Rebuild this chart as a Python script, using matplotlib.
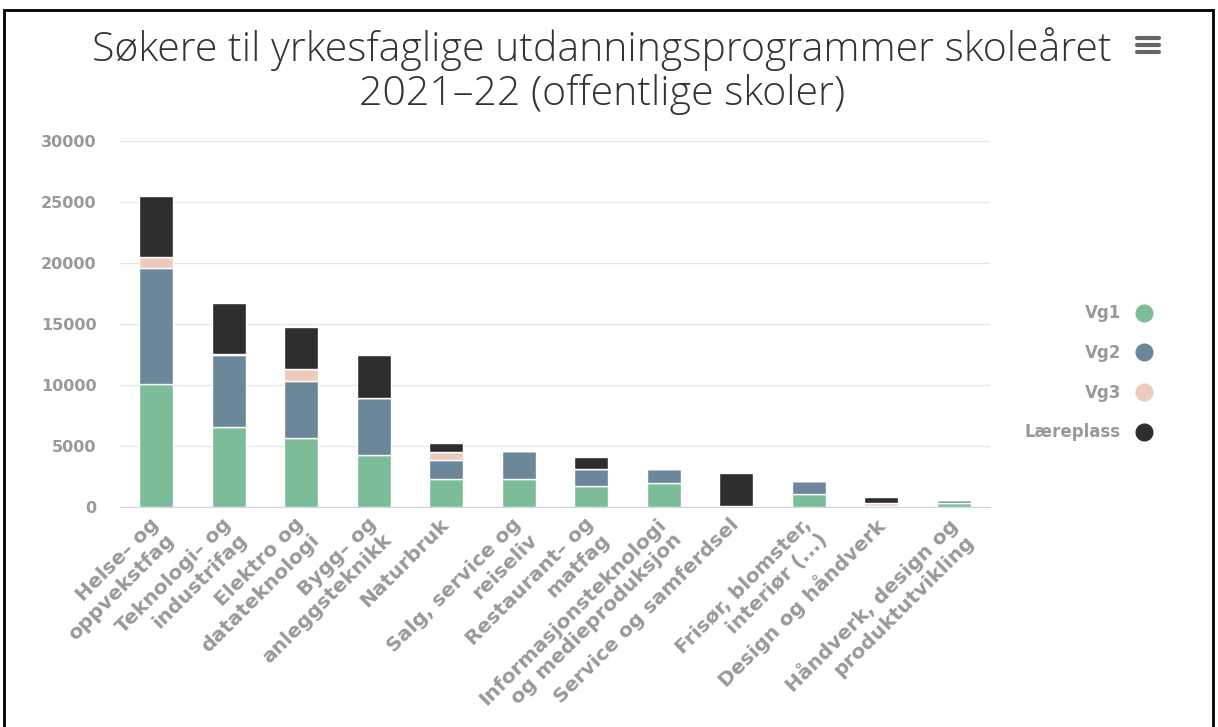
import numpy as np
import matplotlib
matplotlib.use("Agg")
import matplotlib.pyplot as plt
from matplotlib.lines import Line2D
from matplotlib.patches import Rectangle
from matplotlib.transforms import ScaledTranslation

# data
categories = [
    "Helse– og\noppvekstfag",
    "Teknologi– og\nindustrifag",
    "Elektro og\ndatateknologi",
    "Bygg– og\nanleggsteknikk",
    "Naturbruk",
    "Salg, service og\nreiseliv",
    "Restaurant– og\nmatfag",
    "Informasjonsteknologi\nog medieproduksjon",
    "Service og samferdsel",
    "Frisør, blomster,\ninteriør (...)",
    "Design og håndverk",
    "Håndverk, design og\nproduktutvikling",
]
vg1 = [10100, 6550, 5650, 4230, 2320, 2320, 1690, 1960, 70, 1060, 50, 300]
vg2 = [9460, 5920, 4660, 4720, 1500, 2290, 1390, 1120, 50, 1040, 40, 260]
vg3 = [900, 100, 1010, 0, 680, 0, 60, 0, 0, 0, 200, 0]
laereplass = [5000, 4180, 3410, 3520, 740, 0, 950, 0, 2700, 0, 500, 0]

series_names = ["Vg1", "Vg2", "Vg3", "Læreplass"]
series_colors = ["#7cbc99", "#6c8799", "#edcbbd", "#2e2e2e"]
yticks = [0, 5000, 10000, 15000, 20000, 25000, 30000]

GRAY = "#999999"

fig = plt.figure(figsize=(12.18, 7.27), dpi=100)
ax = fig.add_axes([120 / 1218, 1 - 507 / 727, 870 / 1218, 366 / 727])

x = np.arange(len(categories))
bottom = np.zeros(len(categories))
for vals, name, col in zip([vg1, vg2, vg3, laereplass], series_names, series_colors):
    vals = np.array(vals, dtype=float)
    ax.bar(x, vals, width=0.47, bottom=bottom, color=col, edgecolor="white",
           linewidth=1, zorder=3)
    bottom += vals

ax.set_xlim(-0.5, len(categories) - 0.5)
ax.set_ylim(0, 30000)
ax.set_yticks(yticks)
ax.set_yticklabels([str(v) for v in yticks], color=GRAY, fontsize=11.5,
                   fontweight="bold")
ax.yaxis.grid(True, color="#e6e6e6", linewidth=1, zorder=0)
ax.tick_params(axis="y", length=0, pad=17)

# category labels: first line's baseline ends just under the tick
ax.set_xticks(x)
ax.tick_params(axis="x", length=0, labelbottom=False)
label_offset = ScaledTranslation(-0.07, -0.075, fig.dpi_scale_trans)
for i, lab in enumerate(categories):
    ax.text(i, 0, lab, transform=ax.get_xaxis_transform() + label_offset,
            rotation=45, rotation_mode="anchor", ha="right", va="top",
            multialignment="right", color=GRAY, fontsize=14.5,
            fontweight="bold", linespacing=1.2)

for side in ["top", "right", "left"]:
    ax.spines[side].set_visible(False)
ax.spines["bottom"].set_color("#ccd6eb")
ax.spines["bottom"].set_zorder(4)

# title
fig.text(0.494, 1 - 71 / 727, "Søkere til yrkesfaglige utdanningsprogrammer skoleåret\n2021–22 (offentlige skoler)",
         ha="center", va="center", fontsize=29.5, family="Open Sans", fontweight="light",
         color="#333333", linespacing=1.08)

# menu icon
for yy in [38, 45, 52]:
    fig.add_artist(Line2D([1137 / 1218, 1159 / 1218], [1 - yy / 727] * 2,
                          color="#666666", linewidth=3, solid_capstyle="round"))

# legend
handles = [Line2D([], [], marker="o", linestyle="", markersize=12,
                  markerfacecolor=c, markeredgecolor=c) for c in series_colors]
leg = fig.legend(handles, series_names, loc="center left",
                 bbox_to_anchor=(1010 / 1218, 1 - 373 / 727), frameon=False,
                 markerfirst=False, handletextpad=0.4, labelspacing=1.3,
                 prop={"size": 12, "weight": "bold"})
for t in leg.get_texts():
    t.set_color(GRAY)
    t.set_ha("right")

# screenshot frame
fig.add_artist(Rectangle((4 / 1218, -0.01), 1209 / 1218, 1.01 - 10 / 727,
                         transform=fig.transFigure, fill=False,
                         edgecolor="black", linewidth=2))

fig.savefig("out.png", dpi=100, facecolor="white")
